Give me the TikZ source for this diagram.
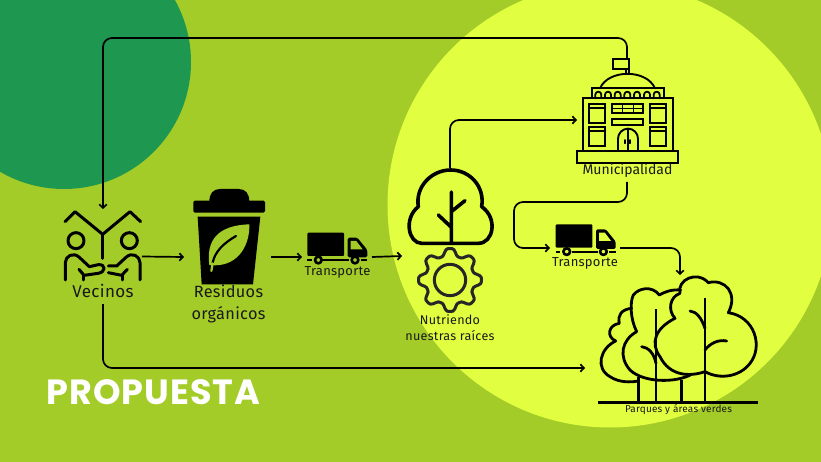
\documentclass[tikz,border=0pt]{standalone}
\usepackage{fontspec}
\setmainfont{Fira Sans}[LetterSpace=2]
\newfontfamily\titlefont{Poppins Bold}[LetterSpace=3]
\usetikzlibrary{arrows.meta}
\definecolor{lime}{HTML}{A4CC28}
\definecolor{neon}{HTML}{E1FF40}
\definecolor{leafgreen}{HTML}{1E9850}
\tikzset{
  anchorbox/.style={inner sep=0pt,outer sep=0pt,minimum width=#1},
  link/.style={draw=black,line width=1.7pt,rounded corners=9pt,-{Straight Barb[length=3.5pt,width=7.5pt]}},
  icon/.style={draw=black,line width=#1,line cap=round,line join=round},
  icon/.default=1.7pt,
  lbl/.style={inner sep=0pt,align=center,text=black!90},
  zoomed/.style={x=0.33333pt,y=-0.33333pt},
  pics/truck/.style={code={
    \fill[black,rounded corners=1pt] (82,218) rectangle (192,288);
    \fill[black,rounded corners=1.5pt] (203,233) -- (232,233) -- (262,270) -- (262,292) -- (203,292) -- cycle;
    \fill[#1] (212,243) -- (229,243) -- (248,268) -- (212,268) -- cycle;
    \draw[icon=1.9pt,line cap=butt] (82,300) -- (95,300) (130,300) -- (208,300) (243,300) -- (262,300);
    \draw[icon=2.6pt,fill=#1] (115,300) circle (10) (225,300) circle (10);
  }}
}
\begin{document}
\begin{tikzpicture}[x=1pt,y=-1pt]
\useasboundingbox (0,0) rectangle (821,462);
\begin{scope}
\clip (0,0) rectangle (821,462);
\fill[lime] (0,0) rectangle (821,462);
\fill[leafgreen] (64,62) circle (127);
\fill[neon] (610,205) circle (222.5);
\end{scope}

% anchor nodes of the icons
\node[anchorbox=78pt,minimum height=95pt] (vec) at (103,256.5) {};
\node[anchorbox=87pt,minimum height=96pt] (bin) at (227.5,257) {};
\node[anchorbox=70pt,minimum height=40pt] (truckA) at (337,257) {};
\node[anchorbox=96pt,minimum height=176pt] (tree) at (450,256) {};
\node[anchorbox=100pt,minimum height=124pt] (mun) at (627,120) {};
\node[anchorbox=70pt,minimum height=40pt] (truckB) at (585,248) {};
\node[anchorbox=190pt,minimum height=186pt] (park) at (680,368) {};

% connectors
\draw[link] (mun.north) -- ++(0,-20) -| (vec.north);
\draw[link] (vec.east) -- (bin.west);
\draw[link] (bin.east) -- (truckA.west);
\draw[link] (truckA.east) -- (tree.west);
\draw[link] (tree.north) |- (mun.west);
\draw[link] (mun.south) -- ++(0,20) -| ++(-113,23) |- (truckB.west);
\draw[link] (truckB.east) -| (park.north);
\draw[link] (vec.south) |- (park.west);

% Vecinos icon
\begin{scope}[shift={(40,170)},zoomed]
\draw[icon=3pt] (75,155) -- (105,125) -- (188,193) -- (270,125) -- (302,155);
\draw[icon=3pt] (188,193) -- (188,265);
\draw[icon=3pt] (108,212) circle (24) (268,212) circle (24);
\draw[icon=3pt] (76,330) -- (76,278) .. controls (76,258) and (100,245) .. (118,262) -- (148,290)
  -- (175,284) .. controls (198,282) and (198,306) .. (175,310) -- (132,316) -- (117,298);
\draw[icon=3pt] (130,316) -- (130,330);
\draw[icon=3pt] (300,330) -- (300,278) .. controls (300,258) and (276,245) .. (258,262) -- (230,288) -- (205,288);
\draw[icon=3pt] (205,308) -- (245,316) -- (262,298);
\draw[icon=3pt] (248,316) -- (248,330);
\end{scope}

% Bin icon
\begin{scope}[shift={(40,170)},zoomed]
\fill[black,rounded corners=1.5pt] (460,92) rectangle (675,128);
\fill[black] (508,95) .. controls (508,70) and (520,57) .. (540,57) -- (596,57) .. controls (616,57) and (628,70) .. (628,95) -- cycle;
\fill[black] (473,140) -- (661,140) -- (639,343) -- (485,343) -- cycle;
\fill[lime] (628,163) .. controls (560,165) and (495,190) .. (508,285)
  .. controls (590,295) and (630,230) .. (628,163) -- cycle;
\draw[line width=2.2pt,black,line cap=round] (588,198) .. controls (550,220) and (525,245) .. (518,278);
\draw[line width=2.2pt,lime,line cap=round] (518,280) -- (514,303);
\end{scope}

% Trucks
\begin{scope}[shift={(280,160)},zoomed]
\pic {truck=lime};
\end{scope}
\begin{scope}[shift={(528.4,151.6)},zoomed]
\pic {truck=neon};
\end{scope}

% Tree and gear
\begin{scope}[shift={(280,160)},zoomed]
\draw[icon=3.6pt] (425,250) .. controls (385,250) and (370,175) .. (415,140)
  .. controls (405,80) and (455,30) .. (512,30)
  .. controls (570,30) and (615,80) .. (605,140)
  .. controls (655,175) and (640,250) .. (595,250) -- cycle;
\draw[icon=3.6pt] (514,96) -- (514,250) (514,155) -- (555,122) (514,202) -- (475,165);
\draw[icon=3pt,draw=black!85] (510,360) circle (47);
\draw[icon=3pt,draw=black!85] plot[smooth cycle,samples=97,domain=0:356.25,variable=\a]
  ({510+(84+12*cos(8*\a)-1.5*cos(24*\a))*cos(\a+90)},{360-(84+12*cos(8*\a)-1.5*cos(24*\a))*sin(\a+90)});
\end{scope}

% Municipal building
\begin{scope}[shift={(540,30)},zoomed]
\draw[icon=1.9pt,line join=miter] (112,362) rectangle (414,400);
\draw[icon=1.9pt,line join=miter] (128,205) rectangle (398,362);
\draw[icon=1.9pt,line join=miter] (155,175) rectangle (372,205);
\draw[icon=1.9pt] (180,175) .. controls (205,117) and (320,117) .. (345,175);
\draw[icon=1.5pt] (258,130) -- (258,117) (267,130) -- (267,117);
\draw[icon=1.9pt,line join=miter] (220,87) rectangle (268,117);
\foreach \c in {175,204,233,262,291,321,350}
  \draw[icon=1.8pt] (\c-9,205) -- (\c-9,194) arc[start angle=180,end angle=360,radius=9] -- (\c+9,205);
\foreach \wx/\wy/\wz in {148/222/278,148/290/348,330/222/278,330/290/348}{
  \draw[icon=2pt,line join=miter] (\wx,\wy) rectangle (\wx+48,\wz);
  \draw[icon=1.9pt] (\wx,\wy+13) -- (\wx+48,\wy+13);
}
\draw[icon=1.9pt,line join=miter] (215,222) rectangle (310,250);
\draw[icon=1.6pt] (215,236) -- (310,236) (248,222) -- (248,250) (280,222) -- (280,250);
\draw[icon=1.9pt,line join=miter] (215,267) rectangle (310,284);
\draw[icon=1.9pt] (234,362) -- (234,326) arc[start angle=180,end angle=360,radius=30] -- (294,362);
\draw[icon=1.6pt] (264,296) -- (264,362);
\draw[icon=1.7pt] (255,330) -- (255,340) (271,330) -- (271,340);
\end{scope}

% Park trees
\begin{scope}[shift={(580,260)},zoomed]
\draw[icon=2.4pt,line cap=butt] (55,427) -- (533,427);
\draw[icon=2.8pt,line cap=butt] (175,352) -- (175,427) (228,148) -- (228,427) (305,360) -- (305,427) (375,115) -- (375,427);
\draw[icon=2.8pt] (300,100) .. controls (290,60) and (350,30) .. (385,68)
  .. controls (435,55) and (475,100) .. (445,158)
  .. controls (525,170) and (550,260) .. (510,310)
  .. controls (480,350) and (420,360) .. (375,335)
  .. controls (330,350) and (270,350) .. (240,290)
  .. controls (210,250) and (225,205) .. (285,175)
  .. controls (262,150) and (270,110) .. (300,100);
\draw[icon=2.8pt] (302,90) .. controls (275,88) and (255,95) .. (238,105)
  .. controls (215,75) and (175,85) .. (160,105)
  .. controls (150,125) and (150,175) .. (170,215)
  .. controls (125,240) and (115,290) .. (150,330)
  .. controls (190,368) and (285,370) .. (335,343);
\draw[icon=2.8pt] (155,145) .. controls (125,148) and (112,165) .. (118,190)
  .. controls (85,195) and (78,230) .. (107,243)
  .. controls (60,265) and (45,325) .. (90,350)
  .. controls (115,367) and (150,368) .. (175,363);
\draw[icon=2.8pt] (375,270) .. controls (390,250) and (415,238) .. (440,243);
\draw[icon=2.8pt] (375,205) .. controls (365,175) and (350,155) .. (330,153);
\draw[icon=2.8pt] (228,310) .. controls (222,280) and (205,262) .. (185,260);
\end{scope}

% Labels
\node[lbl,font=\fontsize{17}{22}\selectfont] (lblVec) at (103,291) {Vecinos};
\node[lbl,font=\fontsize{16.3}{22}\selectfont] (lblBin) at (228.5,303.5) {Residuos\\orgánicos};
\node[lbl,font=\fontsize{13}{15}\selectfont] (lblTrA) at (337.5,272.5) {Transporte};
\node[lbl,font=\fontsize{13}{15}\selectfont] (lblTrB) at (585,263.5) {Transporte};
\node[lbl,font=\fontsize{12.6}{16}\selectfont] (lblNut) at (450,328) {Nutriendo\\nuestras raíces};
\node[lbl,font=\fontsize{14}{16}\selectfont\addfontfeature{LetterSpace=0}] (lblMun) at (627.5,171) {Municipalidad};
\node[lbl,font=\fontsize{10}{11}\selectfont] (lblPark) at (678.5,410) {Parques y áreas verdes};
\node[inner sep=0pt,text=white,font=\titlefont\fontsize{35}{38}\selectfont] (title) at (153.5,392) {PROPUESTA};
\end{tikzpicture}
\end{document}
